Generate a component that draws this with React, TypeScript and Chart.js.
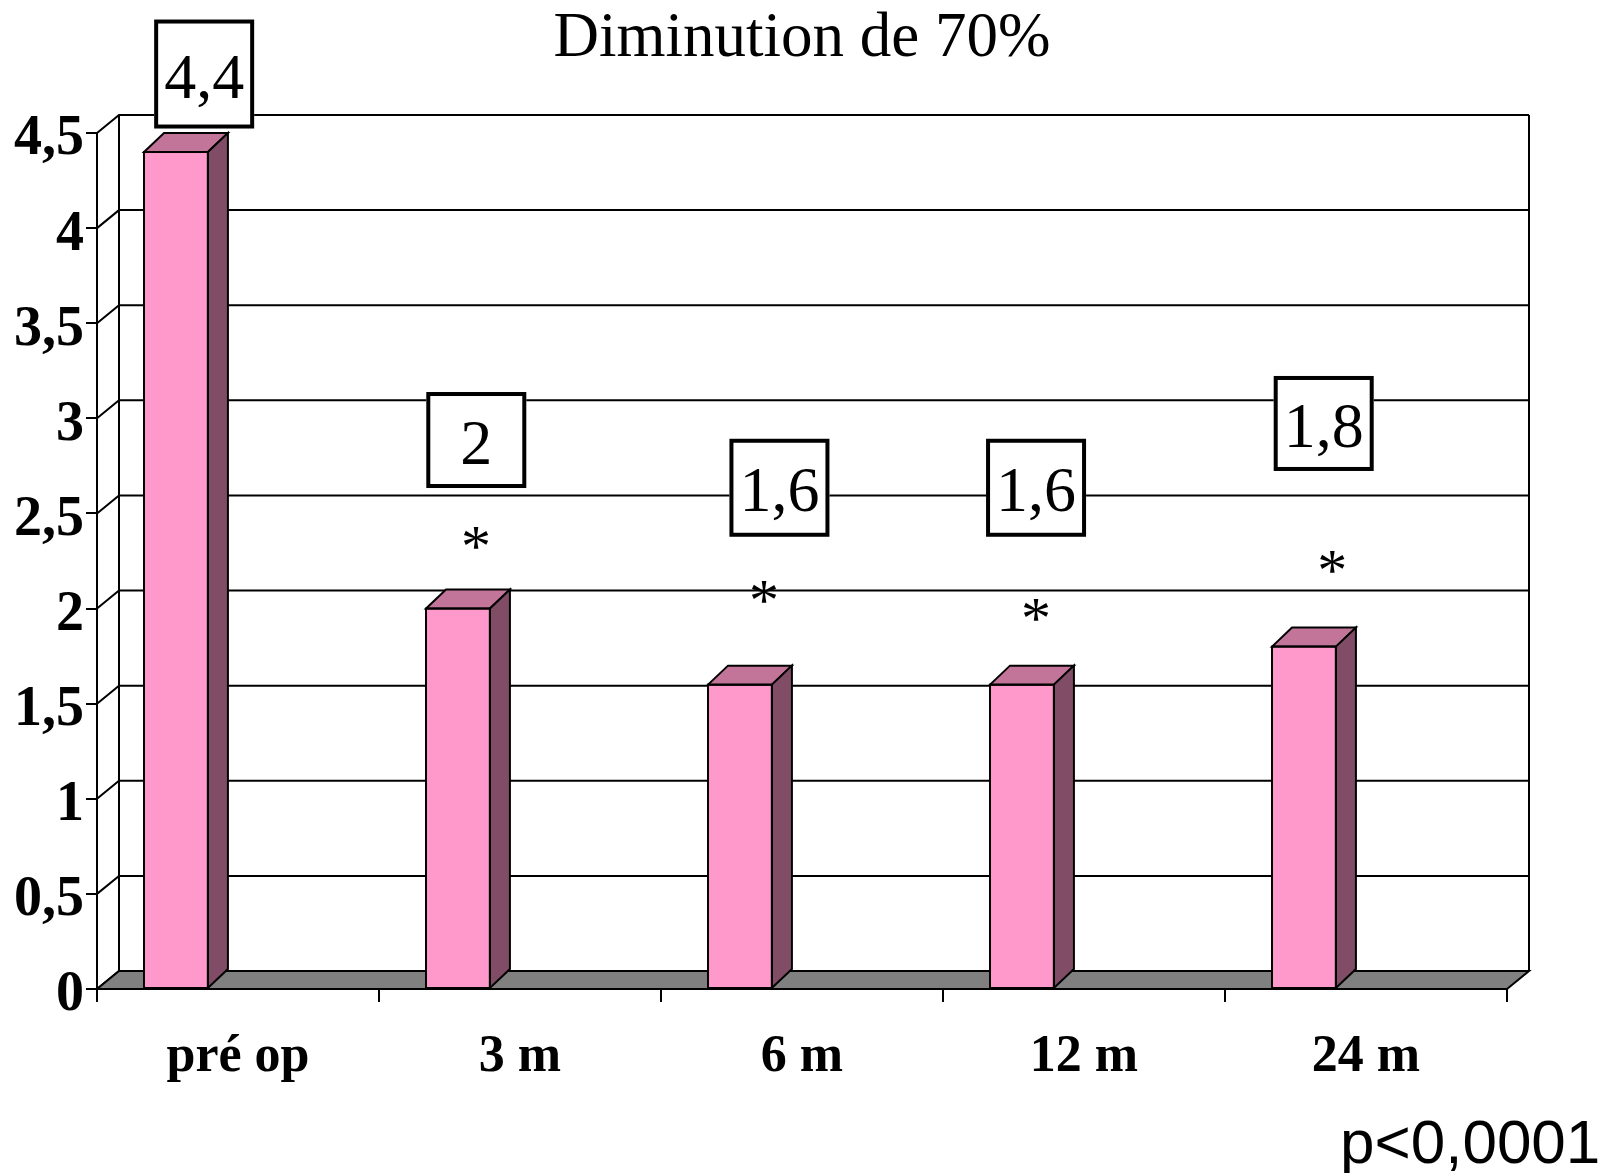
import { useEffect, useRef } from 'react';
import { Chart, registerables } from 'chart.js';

Chart.register(...registerables);

// ---- data ----
const categories = ['pré op', '3 m', '6 m', '12 m', '24 m'];
const scores = [4.4, 2, 1.6, 1.6, 1.8];
const yTickLabels = ['0', '0,5', '1', '1,5', '2', '2,5', '3', '3,5', '4', '4,5'];
const significant = [false, true, true, true, true];
const titleText = 'Diminution de 70%';
const pValueText = 'p<0,0001';

// Callout placement: dx in category steps from the category centre, y in axis units.
const valueBoxAt = [
  { dx: -0.12, y: 4.81, h: 109 },
  { dx: -0.155, y: 2.886, h: 96 },
  { dx: -0.08, y: 2.635, h: 98 },
  { dx: -0.17, y: 2.635, h: 98 },
  { dx: -0.15, y: 2.973, h: 95 },
];
const starAt = [
  null,
  { dx: -0.156, y: 2.37 },
  { dx: -0.135, y: 2.087 },
  { dx: -0.17, y: 1.993 },
  { dx: -0.12, y: 2.245 },
];

// ---- 3D look ----
const WALL_DX = 22;
const WALL_DY = -18;
const BAR_DX = 20;
const BAR_DY = -19;
const FRONT = '#FF99CC';
const TOP = '#C27499';
const SIDE = '#814D66';
const FLOOR = '#808080';

const fmt = (v: number) => String(v).replace('.', ',');

const depthPlugin = {
  id: 'depth3d',
  beforeDatasetsDraw(chart: any) {
    const { ctx, chartArea: a, scales } = chart;
    const y = scales.y;
    ctx.save();
    ctx.strokeStyle = '#000';
    ctx.lineWidth = 2;
    // gridlines on the side wall and the back wall
    for (let i = 0; i < yTickLabels.length; i++) {
      const py = y.getPixelForValue(i * 0.5);
      ctx.beginPath();
      ctx.moveTo(a.left, py);
      ctx.lineTo(a.left + WALL_DX, py + WALL_DY);
      ctx.lineTo(a.right + WALL_DX, py + WALL_DY);
      ctx.stroke();
    }
    const wallTop = y.getPixelForValue(4.5) + WALL_DY;
    const wallBottom = a.bottom + WALL_DY;
    ctx.beginPath();
    ctx.moveTo(a.left + WALL_DX, wallTop);
    ctx.lineTo(a.left + WALL_DX, wallBottom);
    ctx.moveTo(a.right + WALL_DX, wallTop);
    ctx.lineTo(a.right + WALL_DX, wallBottom);
    ctx.stroke();
    // floor
    ctx.fillStyle = FLOOR;
    ctx.beginPath();
    ctx.moveTo(a.left, a.bottom);
    ctx.lineTo(a.right, a.bottom);
    ctx.lineTo(a.right + WALL_DX, a.bottom + WALL_DY);
    ctx.lineTo(a.left + WALL_DX, a.bottom + WALL_DY);
    ctx.closePath();
    ctx.fill();
    ctx.stroke();
    ctx.restore();
  },
  afterDatasetsDraw(chart: any) {
    const { ctx } = chart;
    const meta = chart.getDatasetMeta(0);
    ctx.save();
    ctx.strokeStyle = '#000';
    ctx.lineWidth = 2;
    ctx.lineJoin = 'miter';
    meta.data.forEach((bar: any) => {
      const { x, y, base, width } = bar.getProps(['x', 'y', 'base', 'width'], true);
      const l = x - width / 2;
      const r = x + width / 2;
      ctx.fillStyle = TOP;
      ctx.beginPath();
      ctx.moveTo(l, y);
      ctx.lineTo(l + BAR_DX, y + BAR_DY);
      ctx.lineTo(r + BAR_DX, y + BAR_DY);
      ctx.lineTo(r, y);
      ctx.closePath();
      ctx.fill();
      ctx.stroke();
      ctx.fillStyle = SIDE;
      ctx.beginPath();
      ctx.moveTo(r, y);
      ctx.lineTo(r + BAR_DX, y + BAR_DY);
      ctx.lineTo(r + BAR_DX, base + BAR_DY);
      ctx.lineTo(r, base);
      ctx.closePath();
      ctx.fill();
      ctx.stroke();
      // front outline
      ctx.strokeRect(l, y, width, base - y);
    });
    ctx.restore();
  },
  afterDraw(chart: any) {
    const { ctx, scales } = chart;
    const xs = scales.x;
    const ys = scales.y;
    const step = xs.getPixelForValue(1) - xs.getPixelForValue(0);
    ctx.save();
    // value callouts
    ctx.font = '64px "Liberation Serif"';
    ctx.textAlign = 'center';
    ctx.textBaseline = 'alphabetic';
    scores.forEach((v, i) => {
      const b = valueBoxAt[i];
      const cx = xs.getPixelForValue(i) + b.dx * step;
      const cy = ys.getPixelForValue(b.y);
      const w = 100;
      ctx.fillStyle = '#fff';
      ctx.fillRect(cx - w / 2, cy - b.h / 2, w, b.h);
      ctx.strokeStyle = '#000';
      ctx.lineWidth = 4;
      ctx.strokeRect(cx - w / 2 + 2, cy - b.h / 2 + 2, w - 4, b.h - 4);
      ctx.fillStyle = '#000';
      ctx.fillText(fmt(v), cx, cy + 2 + 0.338 * 64);
    });
    // significance marks
    ctx.font = '60px "Liberation Serif"';
    significant.forEach((s, i) => {
      const p = starAt[i];
      if (!s || !p) return;
      const m = ctx.measureText('*');
      const cx = xs.getPixelForValue(i) + p.dx * step;
      const cy = ys.getPixelForValue(p.y);
      const baseY = cy + (m.actualBoundingBoxAscent - m.actualBoundingBoxDescent) / 2;
      ctx.fillText('*', cx, baseY);
    });
    // p-value note
    ctx.font = '62px "Liberation Sans"';
    ctx.textAlign = 'left';
    ctx.fillText(pValueText, 1340, 1163);
    ctx.restore();
  },
};

export default function App() {
  const canvasRef = useRef<HTMLCanvasElement | null>(null);

  useEffect(() => {
    const canvas = canvasRef.current;
    if (!canvas) return;
    const chart = new Chart(canvas, {
      type: 'bar',
      data: {
        labels: categories,
        datasets: [
          {
            label: 'Score',
            data: scores,
            backgroundColor: FRONT,
            borderColor: '#000',
            borderWidth: 0,
            categoryPercentage: 0.66,
            barPercentage: 1.03,
          },
          // two unused series slots keep each column in the left third of its category
          { label: '', data: [], categoryPercentage: 0.66, barPercentage: 1.03 },
          { label: '', data: [], categoryPercentage: 0.66, barPercentage: 1.03 },
        ],
      },
      options: {
        responsive: false,
        animation: false,
        devicePixelRatio: 1,
        layout: { padding: { left: 0, right: 101, top: 0, bottom: 0 } },
        plugins: {
          legend: { display: false },
          tooltip: { enabled: false },
          title: {
            display: true,
            text: titleText,
            fullSize: false,
            color: '#000',
            font: { family: '"Liberation Serif"', size: 63, weight: 'normal', lineHeight: 1 },
            padding: { top: 8, bottom: 62 },
          },
        },
        scales: {
          x: {
            type: 'category',
            offset: true,
            afterFit: (scale: any) => {
              scale.height = 184;
            },
            grid: {
              offset: true,
              drawOnChartArea: false,
              drawTicks: true,
              tickLength: 13,
              color: '#000',
              lineWidth: 2,
            },
            border: { display: false },
            ticks: {
              color: '#000',
              font: { family: '"Liberation Serif"', size: 52, weight: 'bold' },
              padding: 24,
              maxRotation: 0,
              autoSkip: false,
            },
          },
          y: {
            type: 'linear',
            min: 0,
            max: 4.5,
            afterFit: (scale: any) => {
              scale.width = 97;
            },
            grid: {
              drawOnChartArea: false,
              drawTicks: true,
              tickLength: 11,
              color: '#000',
              lineWidth: 2,
            },
            border: { display: true, color: '#000', width: 2 },
            ticks: {
              stepSize: 0.5,
              color: '#000',
              padding: 2,
              labelOffset: 7,
              font: { family: '"Liberation Serif"', size: 56, weight: 'bold' },
              callback: (_v: any, i: number) => yTickLabels[i],
            },
          },
        },
      },
      plugins: [depthPlugin],
    });
    return () => chart.destroy();
  }, []);

  return (
    <div style={{ position: 'absolute', left: 0, top: 0, width: 1608, height: 1173, background: '#fff' }}>
      <canvas ref={canvasRef} width={1608} height={1173} style={{ display: 'block' }} />
    </div>
  );
}
